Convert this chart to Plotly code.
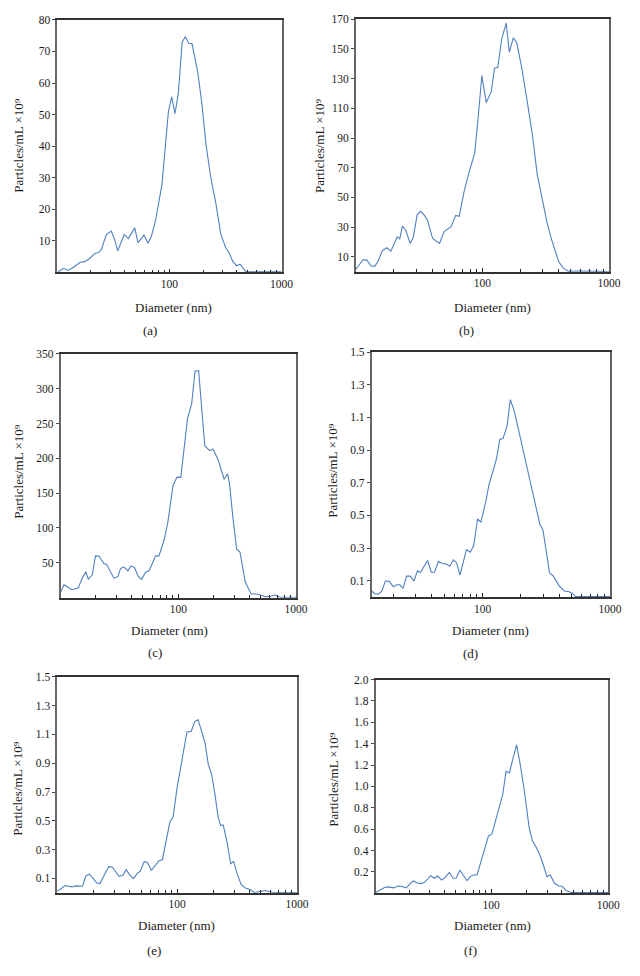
import math
import plotly.graph_objects as go

# ---------------- data ----------------
a_diam = [10.2, 11.4, 12.5, 14, 16, 17.5, 19.5, 21.6, 23.2, 24.7, 27.4, 30.3, 32.4, 34.6, 39.6, 43, 49.1,
          52.5, 59.3, 64.6, 69.1, 75, 85.8, 91.6, 98, 104.8, 112, 120, 130, 139, 148.6, 159, 179, 194.6,
          212, 234, 259, 287, 317, 339, 368, 398, 426, 481, 1000]
a_conc = [0.2, 1.26, 0.6, 1.6, 3.2, 3.4, 4.4, 6.0, 6.2, 7.2, 12, 13.1, 10.5, 6.8, 12, 10.7, 14.1,
          9.4, 11.8, 9.2, 11.5, 16.2, 27.8, 38.3, 51, 55.6, 50.3, 56.6, 73, 74.7, 72.6, 72.5, 63.4, 53.5,
          40.4, 29.9, 22, 12.1, 7.9, 6.3, 3.4, 2.1, 2.6, 0.2, 0.2]

b_diam = [10, 11.4, 12.2, 13.2, 14.1, 15, 16.1, 17.5, 18.9, 20.1, 21.2, 22.2, 23.3, 24.8, 26.8, 28.4,
          30.5, 32.4, 34.8, 36.9, 40.4, 45.8, 49.8, 56.4, 61.4, 65.5, 71.6, 79.3, 86.7, 92, 98.9, 107,
          117.4, 124.5, 132, 142, 154, 163, 175, 187, 205, 226, 248, 271, 297, 324, 348, 376, 399, 431,
          477, 589, 1000]
b_conc = [1.6, 8, 7.8, 3.8, 3.6, 7.1, 13.8, 16.1, 13.8, 19, 23.4, 22.1, 30.6, 27.9, 19, 23.2,
          38.4, 40.6, 37.9, 34.4, 22.3, 19, 27.2, 30.1, 37.9, 37.3, 54, 68.5, 79.7, 102, 132, 113.8,
          121.4, 137, 137.5, 157, 167.4, 147.8, 157.4, 153.8, 136.6, 114.3, 92, 65.2, 47.3, 32.8, 22.8,
          14, 7, 2.7, 0.2, 0.4, 0]

c_diam = [10, 10.7, 11.4, 12.4, 14.1, 15.4, 16.4, 17.2, 18.6, 19.8, 21.3, 23.3, 24.5, 26.2, 28.4,
          30.7, 32.3, 34.5, 37.3, 39.7, 42.4, 45.7, 48.7, 53, 56.5, 64.2, 68.5, 75.4, 81.4, 90.2, 97.4,
          105, 110.8, 119.7, 130, 138.7, 148.8, 168, 185, 197, 217, 232, 245, 262, 272, 290, 313, 334,
          370, 415, 454, 500, 543, 607, 659, 735, 1000]
c_conc = [7.6, 18.5, 15.7, 11.4, 13.8, 29, 37, 26.6, 32.8, 60, 59.4, 49, 48, 38.5, 28,
          30.4, 41.8, 44.2, 38.5, 45.6, 43.3, 30.4, 26.2, 37, 38.5, 60, 60, 81.3, 107.5, 161, 173,
          172.6, 207, 257, 278.6, 325, 326, 217.8, 211, 213, 198.8, 181, 170, 177.8, 164.5, 117, 69.4, 65.6,
          22.8, 5.2, 5.2, 3.8, 1.4, 1.9, 3.8, 0.5, 0.5]

d_diam = [13.5, 14.3, 15.2, 16.2, 17.3, 18.6, 20, 21.3, 22.5, 23.8, 25.4, 27.1, 29, 30.9, 32.6, 37.1,
          39.6, 42, 45.1, 48.4, 51.6, 55.4, 59.1, 62.7, 66.5, 74.9, 80.3, 85.3, 91.5, 97.1, 106.1, 112.5,
          121.6, 128.9, 136.7, 145, 155.7, 165.2, 177.4, 197.3, 222, 246.7, 268, 281, 298, 320, 335.6,
          359.5, 400.5, 438, 478, 507, 538, 1000]
d_conc = [0.037, 0.020, 0.018, 0.035, 0.098, 0.096, 0.063, 0.075, 0.075, 0.053, 0.128, 0.128, 0.098,
          0.16, 0.15, 0.224, 0.152, 0.152, 0.217, 0.205, 0.203, 0.189, 0.228, 0.209, 0.134, 0.29, 0.274,
          0.315, 0.478, 0.459, 0.585, 0.69, 0.778, 0.85, 0.965, 0.972, 1.047, 1.209, 1.14, 0.982, 0.809,
          0.646, 0.514, 0.449, 0.409, 0.25, 0.148, 0.128, 0.067, 0.037, 0.033, 0.022, 0.003, 0.003]

e_diam = [10, 10.6, 11.6, 12.5, 13.3, 14.3, 15.6, 16.3, 17.3, 18.5, 20, 21.3, 22.7, 25, 26.9, 28.8,
          31.1, 32.7, 35.3, 37.6, 40.1, 43.2, 46.4, 49.4, 53.2, 56.7, 61.1, 66.3, 70.6, 75.3, 81.7, 87,
          92.7, 100, 110, 120.8, 131.2, 140.6, 149.7, 160.4, 171, 182, 194, 206.6, 220, 231, 242, 261,
          279.7, 296, 315, 342, 371, 406, 440, 500, 550, 585, 664, 1000]
e_conc = [0.014, 0.023, 0.051, 0.046, 0.041, 0.048, 0.044, 0.046, 0.117, 0.129, 0.099, 0.069, 0.064,
          0.133, 0.182, 0.179, 0.145, 0.115, 0.122, 0.161, 0.126, 0.099, 0.133, 0.152, 0.218, 0.209,
          0.156, 0.191, 0.223, 0.23, 0.375, 0.49, 0.529, 0.731, 0.926, 1.117, 1.122, 1.191, 1.202, 1.126,
          1.041, 0.892, 0.823, 0.685, 0.524, 0.467, 0.471, 0.352, 0.202, 0.218, 0.138, 0.057, 0.034,
          0.023, 0.002, 0.011, 0.016, 0.007, 0.002, 0.002]

f_diam = [10.1, 11.2, 12.3, 13.3, 14.8, 16, 17, 18.8, 20.3, 21.6, 23.5, 25.1, 26.8, 28.6, 30.5, 32.6,
          34.8, 37.8, 40.3, 43.9, 47.4, 50.3, 54, 57.6, 62.3, 66.5, 71, 75.7, 83.4, 89, 94.9, 101.3,
          110.3, 117.5, 125.5, 133.9, 142.9, 152.5, 164.8, 178, 193.8, 210.8, 225, 243, 259.5, 277, 299,
          319, 347, 378, 403, 436, 481, 603, 1000]
f_conc = [0.0, 0.025, 0.053, 0.059, 0.05, 0.068, 0.065, 0.05, 0.09, 0.115, 0.096, 0.09, 0.099, 0.133,
          0.164, 0.14, 0.161, 0.124, 0.146, 0.195, 0.14, 0.143, 0.217, 0.171, 0.118, 0.158, 0.171, 0.171,
          0.335, 0.443, 0.536, 0.552, 0.707, 0.816, 0.924, 1.141, 1.126, 1.25, 1.389, 1.188, 0.924,
          0.614, 0.49, 0.428, 0.36, 0.273, 0.155, 0.171, 0.093, 0.068, 0.065, 0.025, 0.006, 0.006, 0.006]

a_yticks = [10, 20, 30, 40, 50, 60, 70, 80]
b_yticks = [10, 30, 50, 70, 90, 110, 130, 150, 170]
c_yticks = [50, 100, 150, 200, 250, 300, 350]
d_yticks = [0.1, 0.3, 0.5, 0.7, 0.9, 1.1, 1.3, 1.5]
e_yticks = [0.1, 0.3, 0.5, 0.7, 0.9, 1.1, 1.3, 1.5]
f_yticks = [0.2, 0.4, 0.6, 0.8, 1.0, 1.2, 1.4, 1.6, 1.8, 2.0]

x_major = [100, 1000]
x_minor = [20, 30, 40, 50, 60, 70, 80, 90, 200, 300, 400, 500, 600, 700, 800, 900]

panel_labels = ["(a)", "(b)", "(c)", "(d)", "(e)", "(f)"]
x_title = "Diameter (nm)"
y_title = "Particles/mL ×10⁹"

# ---------------- layout geometry (page pixels) ----------------
W, H = 640, 976
FONT = "Liberation Serif, Times New Roman, serif"
TXT = "#1a1a1a"
LINE = "#5080c0"


def fx(px):
    return px / W


def fy(py):
    return 1 - py / H


panels = [
    dict(x=a_diam, y=a_conc, box=(58.3, 287, 14, 268), yr=(0, 80), yt=a_yticks, fmt="", xmin=10,
         xt=(177, 303), lb=(153, 327), yl=(18, 140)),
    dict(x=b_diam, y=b_conc, box=(362.7, 620.7, 13.3, 267.3), yr=(0, 170), yt=b_yticks, fmt="", xmin=10,
         xt=(502, 303), lb=(475, 327), yl=(325, 140)),
    dict(x=c_diam, y=c_conc, box=(61.7, 301.7, 350, 595.3), yr=(0, 350), yt=c_yticks, fmt="", xmin=10,
         xt=(173, 628), lb=(158, 651), yl=(18, 468)),
    dict(x=d_diam, y=d_conc, box=(378.7, 621.7, 348.3, 594.7), yr=(0, 1.5), yt=d_yticks, fmt=".1f", xmin=13.5,
         xt=(500, 628), lb=(479, 652), yl=(338, 467)),
    dict(x=e_diam, y=e_conc, box=(58.3, 302.7, 675, 892.3), yr=(0, 1.5), yt=e_yticks, fmt=".1f", xmin=10,
         xt=(180, 925), lb=(157, 950), yl=(17, 787)),
    dict(x=f_diam, y=f_conc, box=(382.7, 620, 677.7, 892.7), yr=(0, 2.0), yt=f_yticks, fmt=".1f", xmin=10.3,
         xt=(502, 925), lb=(479, 950), yl=(340, 778)),
]

fig = go.Figure()
annotations = []
layout = {}
for i, p in enumerate(panels, start=1):
    sx = "" if i == 1 else str(i)
    x0, x1, y0, y1 = p["box"]
    fig.add_trace(go.Scatter(x=p["x"], y=p["y"], mode="lines",
                             line=dict(color=LINE, width=1.1),
                             xaxis="x" + sx, yaxis="y" + sx, showlegend=False,
                             hoverinfo="skip"))
    layout["xaxis" + sx] = dict(
        domain=[fx(x0), fx(x1)], anchor="y" + sx, type="log",
        range=[math.log10(p["xmin"]), 3],
        tickmode="array", tickvals=x_major, ticktext=[str(v) for v in x_major],
        ticks="inside", ticklen=4, tickcolor="#222", tickwidth=1,
        minor=dict(tickmode="array", tickvals=x_minor, ticks="inside", ticklen=3,
                   tickcolor="#222", tickwidth=1, showgrid=False),
        showgrid=False, zeroline=False, showline=True, linecolor="#333", linewidth=1.5,
        mirror=True, tickfont=dict(family=FONT, size=11.5, color=TXT),
    )
    layout["yaxis" + sx] = dict(
        domain=[fy(y1), fy(y0)], anchor="x" + sx, range=list(p["yr"]),
        tickmode="array", tickvals=p["yt"], tickformat=p["fmt"],
        ticks="outside", ticklen=3, tickcolor="#444", tickwidth=1,
        showgrid=False, zeroline=False, showline=True, linecolor="#666", linewidth=1.5,
        mirror=True, tickfont=dict(family=FONT, size=11.5, color=TXT),
    )
    annotations.append(dict(x=fx(p["xt"][0]), y=fy(p["xt"][1]), xref="paper", yref="paper",
                            text=x_title, showarrow=False, xanchor="center", yanchor="middle",
                            font=dict(family=FONT, size=13, color=TXT)))
    annotations.append(dict(x=fx(p["lb"][0]), y=fy(p["lb"][1]), xref="paper", yref="paper",
                            text=panel_labels[i - 1], showarrow=False, xanchor="center", yanchor="middle",
                            font=dict(family=FONT, size=13, color=TXT)))
    annotations.append(dict(x=fx(p["yl"][0]), y=fy(p["yl"][1]), xref="paper", yref="paper",
                            text=y_title, showarrow=False, textangle=-90,
                            xanchor="center", yanchor="middle",
                            font=dict(family=FONT, size=13, color=TXT)))

fig.update_layout(width=W, height=H, margin=dict(l=0, r=0, t=0, b=0),
                  paper_bgcolor="white", plot_bgcolor="white",
                  annotations=annotations, **layout)
# remove the page's default body margin so the figure sits at the window origin
fig.write_html("out.html", config={"displayModeBar": False},
               post_script="document.body.style.margin='0px';document.body.style.overflow='hidden';")
